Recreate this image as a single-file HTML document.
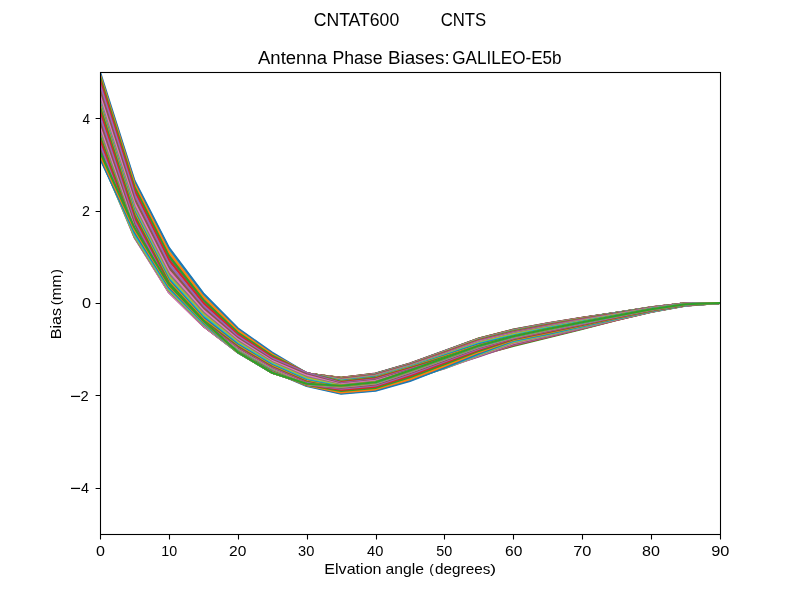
<!DOCTYPE html>
<html><head><meta charset="utf-8"><title>plot</title><style>html,body{margin:0;padding:0;background:#fff;overflow:hidden}svg{display:block;will-change:transform}text{font-family:"Liberation Sans",sans-serif;fill:#000}</style></head><body>
<svg width="800" height="600" viewBox="0 0 800 600">
<rect width="800" height="600" fill="#fff"/>
<defs><clipPath id="c"><rect x="100" y="72" width="620" height="462"/></clipPath></defs>
<g clip-path="url(#c)" fill="none" stroke-width="2.083" stroke-linejoin="round" stroke-linecap="square">
<polyline points="100.00,152.76 134.44,228.84 168.89,284.96 203.33,320.79 237.78,352.05 272.22,372.76 306.67,383.68 341.11,385.74 375.56,382.19 410.00,370.51 444.44,358.07 478.89,345.63 513.33,336.15 547.78,328.96 582.22,322.22 616.67,315.66 651.11,309.17 685.56,304.19 720.00,303.00" stroke="#1f77b4"/>
<polyline points="100.00,149.27 134.44,226.45 168.89,283.46 203.33,320.02 237.78,351.85 272.22,372.75 306.67,382.98 341.11,385.24 375.56,381.65 410.00,369.96 444.44,357.52 478.89,345.07 513.33,335.64 547.78,328.52 582.22,321.87 616.67,315.43 651.11,309.03 685.56,304.12 720.00,303.00" stroke="#ff7f0e"/>
<polyline points="100.00,145.99 134.44,224.43 168.89,282.18 203.33,319.25 237.78,351.62 272.22,372.73 306.67,382.29 341.11,384.75 375.56,381.11 410.00,369.42 444.44,356.97 478.89,344.50 513.33,335.13 547.78,328.08 582.22,321.53 616.67,315.20 651.11,308.89 685.56,304.04 720.00,303.00" stroke="#2ca02c"/>
<polyline points="100.00,143.70 134.44,223.36 168.89,281.31 203.33,318.50 237.78,351.36 272.22,372.70 306.67,381.59 341.11,384.25 375.56,380.58 410.00,368.87 444.44,356.42 478.89,343.94 513.33,334.62 547.78,327.64 582.22,321.18 616.67,314.97 651.11,308.74 685.56,303.97 720.00,303.00" stroke="#d62728"/>
<polyline points="100.00,142.83 134.44,223.15 168.89,280.74 203.33,317.75 237.78,351.07 272.22,372.66 306.67,380.90 341.11,383.75 375.56,380.04 410.00,368.32 444.44,355.88 478.89,343.37 513.33,334.11 547.78,327.20 582.22,320.83 616.67,314.73 651.11,308.60 685.56,303.89 720.00,303.00" stroke="#9467bd"/>
<polyline points="100.00,143.11 134.44,223.23 168.89,280.28 203.33,317.01 237.78,350.75 272.22,372.60 306.67,380.20 341.11,383.25 375.56,379.50 410.00,367.78 444.44,355.33 478.89,342.80 513.33,333.60 547.78,326.76 582.22,320.49 616.67,314.50 651.11,308.46 685.56,303.82 720.00,303.00" stroke="#8c564b"/>
<polyline points="100.00,143.10 134.44,223.05 168.89,279.72 203.33,316.28 237.78,350.41 272.22,372.52 306.67,379.51 341.11,382.75 375.56,378.96 410.00,367.23 444.44,354.78 478.89,342.24 513.33,333.09 547.78,326.32 582.22,320.14 616.67,314.27 651.11,308.31 685.56,303.74 720.00,303.00" stroke="#e377c2"/>
<polyline points="100.00,141.77 134.44,222.19 168.89,278.89 203.33,315.55 237.78,350.05 272.22,372.42 306.67,378.75 341.11,382.25 375.56,378.43 410.00,366.69 444.44,354.23 478.89,341.67 513.33,332.58 547.78,325.88 582.22,319.79 616.67,314.04 651.11,308.17 685.56,303.67 720.00,303.00" stroke="#7f7f7f"/>
<polyline points="100.00,138.82 134.44,220.47 168.89,277.74 203.33,314.83 237.78,349.67 272.22,372.31 306.67,377.99 341.11,381.75 375.56,377.89 410.00,366.14 444.44,353.68 478.89,341.11 513.33,332.06 547.78,325.44 582.22,319.45 616.67,313.81 651.11,308.03 685.56,303.59 720.00,303.00" stroke="#bcbd22"/>
<polyline points="100.00,134.54 134.44,218.06 168.89,276.31 203.33,314.11 237.78,349.26 272.22,372.17 306.67,377.23 341.11,381.18 375.56,377.28 410.00,365.77 444.44,353.31 478.89,340.72 513.33,331.71 547.78,325.14 582.22,319.21 616.67,313.65 651.11,307.93 685.56,303.54 720.00,303.00" stroke="#17becf"/>
<polyline points="100.00,129.77 134.44,215.39 168.89,274.78 203.33,313.40 237.78,348.83 272.22,372.01 306.67,376.47 341.11,380.61 375.56,376.66 410.00,365.39 444.44,352.93 478.89,340.33 513.33,331.36 547.78,324.84 582.22,318.97 616.67,313.49 651.11,307.83 685.56,303.49 720.00,303.00" stroke="#1f77b4"/>
<polyline points="100.00,125.53 134.44,213.00 168.89,273.37 203.33,312.69 237.78,348.38 272.22,371.83 306.67,375.71 341.11,380.04 375.56,376.05 410.00,365.02 444.44,352.55 478.89,339.94 513.33,331.01 547.78,324.54 582.22,318.73 616.67,313.34 651.11,307.73 685.56,303.44 720.00,303.00" stroke="#ff7f0e"/>
<polyline points="100.00,122.63 134.44,211.32 168.89,272.24 203.33,311.99 237.78,347.92 272.22,371.63 306.67,374.95 341.11,379.46 375.56,375.44 410.00,364.64 444.44,352.18 478.89,339.55 513.33,330.66 547.78,324.23 582.22,318.50 616.67,313.18 651.11,307.64 685.56,303.39 720.00,303.00" stroke="#2ca02c"/>
<polyline points="100.00,121.40 134.44,210.51 168.89,271.45 203.33,311.29 237.78,347.43 272.22,371.40 306.67,374.73 341.11,378.89 375.56,374.82 410.00,364.27 444.44,351.80 478.89,339.17 513.33,330.31 547.78,323.93 582.22,318.26 616.67,313.02 651.11,307.54 685.56,303.33 720.00,303.00" stroke="#d62728"/>
<polyline points="100.00,121.51 134.44,210.40 168.89,270.95 203.33,310.59 237.78,346.92 272.22,371.14 306.67,374.51 341.11,378.32 375.56,374.21 410.00,363.90 444.44,351.42 478.89,338.78 513.33,329.96 547.78,323.63 582.22,318.02 616.67,312.86 651.11,307.44 685.56,303.28 720.00,303.00" stroke="#9467bd"/>
<polyline points="100.00,122.14 134.44,210.57 168.89,270.55 203.33,309.90 237.78,346.40 272.22,370.85 306.67,374.30 341.11,377.75 375.56,373.59 410.00,363.52 444.44,351.05 478.89,338.39 513.33,329.61 547.78,323.33 582.22,317.78 616.67,312.70 651.11,307.34 685.56,303.23 720.00,303.00" stroke="#8c564b"/>
<polyline points="100.00,122.27 134.44,210.48 168.89,270.05 203.33,309.21 237.78,345.86 272.22,370.54 306.67,374.08 341.11,377.80 375.56,373.65 410.00,363.57 444.44,351.11 478.89,338.45 513.33,329.67 547.78,323.38 582.22,317.82 616.67,312.73 651.11,307.36 685.56,303.24 720.00,303.00" stroke="#e377c2"/>
<polyline points="100.00,121.07 134.44,209.69 168.89,269.29 203.33,308.53 237.78,345.30 272.22,370.20 306.67,373.86 341.11,377.85 375.56,373.70 410.00,363.63 444.44,351.16 478.89,338.51 513.33,329.73 547.78,323.43 582.22,317.86 616.67,312.76 651.11,307.38 685.56,303.25 720.00,303.00" stroke="#7f7f7f"/>
<polyline points="100.00,118.23 134.44,208.05 168.89,268.18 203.33,307.85 237.78,344.73 272.22,369.83 306.67,373.64 341.11,377.90 375.56,373.75 410.00,363.68 444.44,351.22 478.89,338.58 513.33,329.79 547.78,323.48 582.22,317.91 616.67,312.78 651.11,307.39 685.56,303.26 720.00,303.00" stroke="#bcbd22"/>
<polyline points="100.00,114.07 134.44,205.71 168.89,266.81 203.33,307.17 237.78,344.13 272.22,369.43 306.67,373.62 341.11,377.94 375.56,373.80 410.00,363.73 444.44,351.28 478.89,338.64 513.33,329.85 547.78,323.53 582.22,317.95 616.67,312.81 651.11,307.41 685.56,303.27 720.00,303.00" stroke="#17becf"/>
<polyline points="100.00,109.40 134.44,203.11 168.89,265.33 203.33,306.49 237.78,343.53 272.22,369.00 306.67,373.60 341.11,377.99 375.56,373.85 410.00,363.78 444.44,351.34 478.89,338.70 513.33,329.91 547.78,323.59 582.22,317.99 616.67,312.84 651.11,307.43 685.56,303.27 720.00,303.00" stroke="#1f77b4"/>
<polyline points="100.00,105.25 134.44,200.78 168.89,263.96 203.33,305.82 237.78,342.90 272.22,368.53 306.67,373.58 341.11,378.04 375.56,373.90 410.00,363.84 444.44,351.39 478.89,338.77 513.33,329.97 547.78,323.64 582.22,318.03 616.67,312.86 651.11,307.44 685.56,303.28 720.00,303.00" stroke="#ff7f0e"/>
<polyline points="100.00,102.45 134.44,199.16 168.89,262.87 203.33,305.14 237.78,342.26 272.22,368.04 306.67,373.56 341.11,378.09 375.56,373.95 410.00,363.89 444.44,351.45 478.89,338.83 513.33,330.03 547.78,323.69 582.22,318.07 616.67,312.89 651.11,307.46 685.56,303.29 720.00,303.00" stroke="#2ca02c"/>
<polyline points="100.00,101.30 134.44,198.40 168.89,262.12 203.33,304.47 237.78,341.61 272.22,367.51 306.67,373.54 341.11,378.14 375.56,374.01 410.00,363.94 444.44,351.51 478.89,338.89 513.33,330.09 547.78,323.74 582.22,318.11 616.67,312.92 651.11,307.48 685.56,303.30 720.00,303.00" stroke="#d62728"/>
<polyline points="100.00,101.49 134.44,198.35 168.89,261.66 203.33,303.81 237.78,340.93 272.22,366.94 306.67,373.51 341.11,378.18 375.56,374.06 410.00,363.99 444.44,351.57 478.89,338.98 513.33,330.21 547.78,323.84 582.22,318.19 616.67,312.97 651.11,307.51 685.56,303.32 720.00,303.00" stroke="#9467bd"/>
<polyline points="100.00,102.19 134.44,198.57 168.89,261.30 203.33,303.14 237.78,340.25 272.22,366.34 306.67,373.49 341.11,378.23 375.56,374.11 410.00,364.05 444.44,351.69 478.89,339.13 513.33,330.35 547.78,323.96 582.22,318.28 616.67,313.04 651.11,307.55 685.56,303.34 720.00,303.00" stroke="#8c564b"/>
<polyline points="100.00,102.39 134.44,198.52 168.89,260.84 203.33,302.48 237.78,339.55 272.22,365.71 306.67,373.47 341.11,378.34 375.56,374.23 410.00,364.17 444.44,351.83 478.89,339.27 513.33,330.49 547.78,324.08 582.22,318.38 616.67,313.10 651.11,307.59 685.56,303.36 720.00,303.00" stroke="#e377c2"/>
<polyline points="100.00,101.27 134.44,197.78 168.89,260.10 203.33,301.82 237.78,338.83 272.22,365.03 306.67,373.45 341.11,378.45 375.56,374.35 410.00,364.29 444.44,351.96 478.89,339.42 513.33,330.63 547.78,324.20 582.22,318.47 616.67,313.16 651.11,307.63 685.56,303.38 720.00,303.00" stroke="#7f7f7f"/>
<polyline points="100.00,98.50 134.44,196.18 168.89,259.03 203.33,301.16 237.78,338.10 272.22,364.33 306.67,373.43 341.11,378.57 375.56,374.47 410.00,364.41 444.44,352.10 478.89,339.57 513.33,330.77 547.78,324.32 582.22,318.57 616.67,313.22 651.11,307.67 685.56,303.40 720.00,303.00" stroke="#bcbd22"/>
<polyline points="100.00,94.39 134.44,193.88 168.89,257.69 203.33,300.50 237.78,337.36 272.22,363.58 306.67,373.41 341.11,378.68 375.56,374.59 410.00,364.53 444.44,352.23 478.89,339.71 513.33,330.91 547.78,324.44 582.22,318.66 616.67,313.29 651.11,307.70 685.56,303.42 720.00,303.00" stroke="#17becf"/>
<polyline points="100.00,89.79 134.44,191.32 168.89,256.24 203.33,299.85 237.78,336.60 272.22,362.79 306.67,373.38 341.11,378.79 375.56,374.71 410.00,364.66 444.44,352.37 478.89,339.86 513.33,331.05 547.78,324.56 582.22,318.76 616.67,313.35 651.11,307.74 685.56,303.44 720.00,303.00" stroke="#1f77b4"/>
<polyline points="100.00,85.70 134.44,189.03 168.89,254.90 203.33,299.19 237.78,335.83 272.22,361.97 306.67,373.37 341.11,378.90 375.56,374.83 410.00,364.78 444.44,352.50 478.89,340.01 513.33,331.18 547.78,324.68 582.22,318.85 616.67,313.41 651.11,307.78 685.56,303.46 720.00,303.00" stroke="#ff7f0e"/>
<polyline points="100.00,82.94 134.44,187.44 168.89,253.84 203.33,298.54 237.78,335.04 272.22,361.11 306.67,373.36 341.11,379.01 375.56,374.95 410.00,364.90 444.44,352.64 478.89,340.15 513.33,331.48 547.78,324.94 582.22,319.05 616.67,313.55 651.11,307.87 685.56,303.51 720.00,303.00" stroke="#2ca02c"/>
<polyline points="100.00,81.85 134.44,186.85 168.89,253.18 203.33,297.89 237.78,334.24 272.22,360.21 306.67,373.34 341.11,379.13 375.56,375.07 410.00,365.02 444.44,352.77 478.89,340.50 513.33,331.91 547.78,325.31 582.22,319.34 616.67,313.74 651.11,307.99 685.56,303.57 720.00,303.00" stroke="#d62728"/>
<polyline points="100.00,82.28 134.44,186.85 168.89,252.74 203.33,297.25 237.78,333.43 272.22,359.26 306.67,373.33 341.11,379.24 375.56,375.19 410.00,365.15 444.44,353.12 478.89,340.95 513.33,332.34 547.78,325.68 582.22,319.63 616.67,313.93 651.11,308.10 685.56,303.63 720.00,303.00" stroke="#9467bd"/>
<polyline points="100.00,82.46 134.44,186.73 168.89,252.25 203.33,296.60 237.78,332.60 272.22,358.28 306.67,373.32 341.11,379.35 375.56,375.31 410.00,365.27 444.44,353.54 478.89,341.39 513.33,332.76 547.78,326.04 582.22,319.92 616.67,314.13 651.11,308.22 685.56,303.69 720.00,303.00" stroke="#8c564b"/>
<polyline points="100.00,81.60 134.44,186.09 168.89,251.56 203.33,295.95 237.78,331.76 272.22,357.25 306.67,373.31 341.11,379.69 375.56,375.68 410.00,365.64 444.44,353.95 478.89,341.84 513.33,333.19 547.78,326.41 582.22,320.21 616.67,314.32 651.11,308.34 685.56,303.76 720.00,303.00" stroke="#e377c2"/>
<polyline points="100.00,79.55 134.44,184.88 168.89,250.65 203.33,295.31 237.78,330.91 272.22,356.18 306.67,373.29 341.11,380.04 375.56,376.05 410.00,366.02 444.44,354.36 478.89,342.29 513.33,333.61 547.78,326.78 582.22,320.50 616.67,314.51 651.11,308.46 685.56,303.82 720.00,303.00" stroke="#7f7f7f"/>
<polyline points="100.00,76.79 134.44,183.33 168.89,249.61 203.33,294.67 237.78,330.04 272.22,355.07 306.67,373.28 341.11,380.38 375.56,376.42 410.00,366.39 444.44,354.78 478.89,342.74 513.33,334.36 547.78,327.42 582.22,321.01 616.67,314.85 651.11,308.67 685.56,303.93 720.00,303.00" stroke="#bcbd22"/>
<polyline points="100.00,74.08 134.44,181.80 168.89,248.59 203.33,294.03 237.78,329.16 272.22,353.91 306.67,373.27 341.11,380.72 375.56,376.79 410.00,366.77 444.44,355.19 478.89,343.44 513.33,335.19 547.78,328.14 582.22,321.57 616.67,315.22 651.11,308.90 685.56,304.05 720.00,303.00" stroke="#17becf"/>
<polyline points="100.00,72.00 134.44,180.57 168.89,247.68 203.33,293.39 237.78,328.27 272.22,352.71 306.67,373.25 341.11,381.06 375.56,377.15 410.00,367.14 444.44,355.76 478.89,344.31 513.33,336.02 547.78,328.85 582.22,322.13 616.67,315.60 651.11,309.14 685.56,304.17 720.00,303.00" stroke="#1f77b4"/>
<polyline points="100.00,74.75 134.44,183.88 168.89,251.99 203.33,296.78 237.78,330.45 272.22,354.29 306.67,373.19 341.11,381.41 375.56,377.52 410.00,367.51 444.44,356.56 478.89,345.18 513.33,336.85 547.78,329.56 582.22,322.69 616.67,315.97 651.11,309.37 685.56,304.29 720.00,303.00" stroke="#ff7f0e"/>
<polyline points="100.00,77.14 134.44,186.88 168.89,255.94 203.33,299.94 237.78,332.50 272.22,355.79 306.67,373.12 341.11,381.75 375.56,377.89 410.00,367.89 444.44,357.36 478.89,346.05 513.33,337.68 547.78,330.28 582.22,323.25 616.67,316.35 651.11,309.60 685.56,304.42 720.00,303.00" stroke="#2ca02c"/>
<polyline points="100.00,80.16 134.44,190.16 168.89,259.76 203.33,302.87 237.78,334.43 272.22,357.22 306.67,373.06 341.11,382.41 375.56,378.61 410.00,368.62 444.44,358.17 478.89,346.92 513.33,338.51 547.78,330.99 582.22,323.81 616.67,316.72 651.11,309.83 685.56,304.54 720.00,303.00" stroke="#d62728"/>
<polyline points="100.00,84.56 134.44,194.13 168.89,263.63 203.33,305.58 237.78,336.23 272.22,358.57 306.67,372.99 341.11,383.08 375.56,379.32 410.00,369.34 444.44,358.97 478.89,347.79 513.33,339.34 547.78,331.71 582.22,324.38 616.67,317.10 651.11,310.06 685.56,304.66 720.00,303.00" stroke="#9467bd"/>
<polyline points="100.00,90.31 134.44,198.71 168.89,267.51 203.33,308.07 237.78,337.92 272.22,359.85 306.67,374.30 341.11,383.75 375.56,380.04 410.00,370.07 444.44,359.77 478.89,348.66 513.33,340.16 547.78,332.42 582.22,324.94 616.67,317.47 651.11,310.29 685.56,304.78 720.00,303.00" stroke="#8c564b"/>
<polyline points="100.00,95.79 134.44,202.98 168.89,271.06 203.33,310.36 237.78,339.49 272.22,361.05 306.67,375.60 341.11,384.41 375.56,380.75 410.00,370.80 444.44,360.58 478.89,349.53 513.33,340.99 547.78,333.13 582.22,325.50 616.67,317.85 651.11,310.53 685.56,304.90 720.00,303.00" stroke="#e377c2"/>
<polyline points="100.00,99.91 134.44,206.44 168.89,274.07 203.33,312.45 237.78,340.95 272.22,362.19 306.67,376.90 341.11,385.08 375.56,381.47 410.00,371.53 444.44,361.38 478.89,350.40 513.33,341.82 547.78,333.85 582.22,326.06 616.67,318.22 651.11,310.76 685.56,305.02 720.00,303.00" stroke="#7f7f7f"/>
<polyline points="100.00,102.34 134.44,208.92 168.89,276.50 203.33,314.36 237.78,342.30 272.22,363.25 306.67,378.20 341.11,385.74 375.56,382.19 410.00,372.25 444.44,362.18 478.89,351.28 513.33,342.71 547.78,334.62 582.22,326.67 616.67,318.62 651.11,311.01 685.56,305.16 720.00,303.00" stroke="#bcbd22"/>
<polyline points="100.00,103.42 134.44,210.57 168.89,278.42 203.33,316.08 237.78,343.54 272.22,364.25 306.67,379.51 341.11,386.41 375.56,382.90 410.00,372.98 444.44,362.98 478.89,352.16 513.33,343.61 547.78,335.39 582.22,327.27 616.67,319.03 651.11,311.26 685.56,305.29 720.00,303.00" stroke="#17becf"/>
<polyline points="100.00,103.95 134.44,211.84 168.89,280.01 203.33,317.63 237.78,344.69 272.22,365.19 306.67,380.55 341.11,387.08 375.56,383.62 410.00,373.71 444.44,363.79 478.89,353.10 513.33,344.50 547.78,336.16 582.22,327.88 616.67,319.43 651.11,311.51 685.56,305.42 720.00,303.00" stroke="#1f77b4"/>
<polyline points="100.00,104.96 134.44,213.25 168.89,281.48 203.33,319.02 237.78,345.73 272.22,366.06 306.67,381.14 341.11,387.74 375.56,384.34 410.00,374.44 444.44,364.62 478.89,354.04 513.33,345.27 547.78,336.82 582.22,328.40 616.67,319.78 651.11,311.72 685.56,305.53 720.00,303.00" stroke="#ff7f0e"/>
<polyline points="100.00,107.27 134.44,215.24 168.89,283.03 203.33,320.24 237.78,346.69 272.22,366.87 306.67,381.72 341.11,388.41 375.56,385.05 410.00,375.16 444.44,365.49 478.89,354.98 513.33,345.97 547.78,337.42 582.22,328.87 616.67,320.09 651.11,311.92 685.56,305.63 720.00,303.00" stroke="#2ca02c"/>
<polyline points="100.00,111.20 134.44,217.96 168.89,284.72 203.33,321.32 237.78,347.55 272.22,367.61 306.67,382.29 341.11,389.07 375.56,385.77 410.00,375.89 444.44,366.35 478.89,355.77 513.33,345.29 547.78,336.96 582.22,328.53 616.67,319.89 651.11,311.80 685.56,305.57 720.00,303.00" stroke="#d62728"/>
<polyline points="100.00,116.43 134.44,221.26 168.89,286.51 203.33,322.26 237.78,348.32 272.22,368.30 306.67,382.85 341.11,389.74 375.56,386.48 410.00,376.62 444.44,367.22 478.89,356.50 513.33,344.62 547.78,336.50 582.22,328.18 616.67,319.69 651.11,311.69 685.56,305.51 720.00,303.00" stroke="#9467bd"/>
<polyline points="100.00,122.12 134.44,224.70 168.89,288.22 203.33,323.07 237.78,349.01 272.22,368.92 306.67,383.42 341.11,390.46 375.56,387.26 410.00,377.41 444.44,367.93 478.89,355.99 513.33,343.94 547.78,336.05 582.22,327.83 616.67,319.48 651.11,311.57 685.56,305.45 720.00,303.00" stroke="#8c564b"/>
<polyline points="100.00,127.27 134.44,227.73 168.89,289.66 203.33,323.76 237.78,349.62 272.22,369.50 306.67,383.94 341.11,391.18 375.56,388.03 410.00,378.19 444.44,368.60 478.89,355.47 513.33,343.27 547.78,335.59 582.22,327.49 616.67,319.28 651.11,311.46 685.56,305.39 720.00,303.00" stroke="#e377c2"/>
<polyline points="100.00,131.04 134.44,229.94 168.89,290.66 203.33,324.33 237.78,350.16 272.22,370.01 306.67,384.46 341.11,391.90 375.56,388.80 410.00,378.98 444.44,368.34 478.89,354.96 513.33,342.59 547.78,335.13 582.22,327.14 616.67,319.08 651.11,311.34 685.56,305.33 720.00,303.00" stroke="#7f7f7f"/>
<polyline points="100.00,133.12 134.44,231.14 168.89,291.19 203.33,324.80 237.78,350.63 272.22,370.48 306.67,384.98 341.11,392.62 375.56,389.58 410.00,379.76 444.44,368.08 478.89,354.45 513.33,341.92 547.78,334.67 582.22,326.79 616.67,318.87 651.11,311.23 685.56,305.27 720.00,303.00" stroke="#bcbd22"/>
<polyline points="100.00,133.81 134.44,231.50 168.89,291.30 203.33,325.18 237.78,351.03 272.22,370.89 306.67,385.50 341.11,393.18 375.56,390.18 410.00,380.37 444.44,367.81 478.89,353.93 513.33,341.24 547.78,334.21 582.22,326.45 616.67,318.67 651.11,311.12 685.56,305.21 720.00,303.00" stroke="#17becf"/>
<polyline points="100.00,133.94 134.44,231.46 168.89,291.19 203.33,325.47 237.78,351.36 272.22,371.26 306.67,386.02 341.11,393.74 375.56,390.78 410.00,380.99 444.44,367.55 478.89,353.42 513.33,340.57 547.78,333.76 582.22,326.10 616.67,318.47 651.11,311.00 685.56,305.15 720.00,303.00" stroke="#1f77b4"/>
<polyline points="100.00,134.53 134.44,231.53 168.89,291.07 203.33,325.69 237.78,351.64 272.22,371.58 306.67,385.24 341.11,392.39 375.56,389.34 410.00,379.17 444.44,365.94 478.89,352.15 513.33,339.95 547.78,333.02 582.22,325.50 616.67,318.02 651.11,310.71 685.56,305.00 720.00,303.00" stroke="#ff7f0e"/>
<polyline points="100.00,136.39 134.44,232.16 168.89,291.21 203.33,325.83 237.78,351.87 272.22,371.85 306.67,384.72 341.11,391.05 375.56,387.89 410.00,377.35 444.44,364.32 478.89,350.89 513.33,339.33 547.78,332.29 582.22,324.90 616.67,317.58 651.11,310.42 685.56,304.85 720.00,303.00" stroke="#2ca02c"/>
<polyline points="100.00,139.83 134.44,233.69 168.89,291.69 203.33,325.93 237.78,352.05 272.22,372.08 306.67,384.52 341.11,389.84 375.56,386.59 410.00,375.72 444.44,362.87 478.89,349.74 513.33,338.77 547.78,331.63 582.22,324.36 616.67,317.18 651.11,310.15 685.56,304.71 720.00,303.00" stroke="#d62728"/>
<polyline points="100.00,144.54 134.44,235.59 168.89,292.15 203.33,325.98 237.78,352.18 272.22,372.28 306.67,384.33 341.11,388.77 375.56,385.44 410.00,374.27 444.44,361.57 478.89,348.73 513.33,338.27 547.78,331.04 582.22,323.88 616.67,316.83 651.11,309.92 685.56,304.58 720.00,303.00" stroke="#9467bd"/>
<polyline points="100.00,149.67 134.44,236.93 168.89,292.37 203.33,326.00 237.78,352.27 272.22,372.43 306.67,384.23 341.11,387.83 375.56,384.43 410.00,372.99 444.44,360.44 478.89,347.84 513.33,337.83 547.78,330.53 582.22,323.47 616.67,316.52 651.11,309.71 685.56,304.48 720.00,303.00" stroke="#8c564b"/>
<polyline points="100.00,153.49 134.44,237.40 168.89,292.32 203.33,326.01 237.78,352.34 272.22,372.55 306.67,384.13 341.11,387.02 375.56,383.56 410.00,371.90 444.44,359.47 478.89,347.08 513.33,337.46 547.78,330.09 582.22,323.11 616.67,316.25 651.11,309.54 685.56,304.38 720.00,303.00" stroke="#e377c2"/>
<polyline points="100.00,155.53 134.44,237.14 168.89,291.01 203.33,324.97 237.78,352.37 272.22,372.64 306.67,384.03 341.11,386.78 375.56,383.30 410.00,371.64 444.44,359.21 478.89,346.81 513.33,337.22 547.78,329.88 582.22,322.94 616.67,316.14 651.11,309.47 685.56,304.35 720.00,303.00" stroke="#7f7f7f"/>
<polyline points="100.00,156.44 134.44,235.54 168.89,289.85 203.33,324.07 237.78,352.39 272.22,372.70 306.67,383.94 341.11,386.54 375.56,383.05 410.00,371.38 444.44,358.95 478.89,346.54 513.33,336.97 547.78,329.67 582.22,322.77 616.67,316.03 651.11,309.40 685.56,304.31 720.00,303.00" stroke="#bcbd22"/>
<polyline points="100.00,157.20 134.44,233.89 168.89,288.60 203.33,323.21 237.78,352.39 272.22,372.74 306.67,383.87 341.11,386.30 375.56,382.79 410.00,371.12 444.44,358.68 478.89,346.27 513.33,336.73 547.78,329.46 582.22,322.61 616.67,315.92 651.11,309.33 685.56,304.28 720.00,303.00" stroke="#17becf"/>
<polyline points="100.00,158.39 134.44,231.92 168.89,287.22 203.33,322.39 237.78,352.33 272.22,372.76 306.67,383.81 341.11,386.06 375.56,382.53 410.00,370.86 444.44,358.42 478.89,346.00 513.33,336.48 547.78,329.25 582.22,322.44 616.67,315.81 651.11,309.26 685.56,304.24 720.00,303.00" stroke="#1f77b4"/>
<polyline points="100.00,155.12 134.44,229.76 168.89,285.79 203.33,321.58 237.78,352.21 272.22,372.76 306.67,383.74 341.11,385.90 375.56,382.36 410.00,370.68 444.44,358.25 478.89,345.81 513.33,336.32 547.78,329.11 582.22,322.33 616.67,315.73 651.11,309.22 685.56,304.22 720.00,303.00" stroke="#ff7f0e"/>
<polyline points="100.00,151.91 134.44,227.80 168.89,284.48 203.33,320.79 237.78,352.05 272.22,372.76 306.67,383.68 341.11,385.74 375.56,382.19 410.00,370.51 444.44,358.07 478.89,345.63 513.33,336.15 547.78,328.96 582.22,322.22 616.67,315.66 651.11,309.17 685.56,304.19 720.00,303.00" stroke="#2ca02c"/>
</g>
<rect x="100.5" y="72.5" width="620" height="462" fill="none" stroke="#000" stroke-width="1.1"/>
<path d="M100.5 534.5v4.9M169.5 534.5v4.9M238.5 534.5v4.9M307.5 534.5v4.9M376.5 534.5v4.9M444.5 534.5v4.9M513.5 534.5v4.9M582.5 534.5v4.9M651.5 534.5v4.9M720.5 534.5v4.9M100.5 488.5h-4.9M100.5 395.5h-4.9M100.5 303.5h-4.9M100.5 211.5h-4.9M100.5 118.5h-4.9" stroke="#000" stroke-width="1.1" fill="none"/>
<rect x="71.0" y="395.78" width="9.1" height="1.25" fill="#000"/>
<rect x="71.0" y="487.78" width="9.1" height="1.25" fill="#000"/>
<text x="258.00" y="63.50" font-size="17.60" text-anchor="start" textLength="69.00" lengthAdjust="spacingAndGlyphs">Antenna</text>
<text x="332.40" y="63.50" font-size="17.60" text-anchor="start" textLength="50.09" lengthAdjust="spacingAndGlyphs">Phase</text>
<text x="387.90" y="63.50" font-size="17.60" text-anchor="start" textLength="61.80" lengthAdjust="spacingAndGlyphs">Biases:</text>
<text x="452.32" y="63.50" font-size="17.60" text-anchor="start" textLength="109.23" lengthAdjust="spacingAndGlyphs">GALILEO-E5b</text>
<text x="313.70" y="26.00" font-size="17.60" text-anchor="start" textLength="85.54" lengthAdjust="spacingAndGlyphs">CNTAT600</text>
<text x="440.70" y="26.00" font-size="17.60" text-anchor="start" textLength="45.58" lengthAdjust="spacingAndGlyphs">CNTS</text>
<text x="324.32" y="573.80" font-size="14.10" text-anchor="start" textLength="57.23" lengthAdjust="spacingAndGlyphs">Elvation</text>
<text x="385.58" y="573.80" font-size="14.10" text-anchor="start" textLength="38.39" lengthAdjust="spacingAndGlyphs">angle</text>
<text x="429.16" y="572.80" font-size="13.20" text-anchor="start" textLength="4.57" lengthAdjust="spacingAndGlyphs">(</text>
<text x="435.08" y="573.80" font-size="14.10" text-anchor="start" textLength="55.25" lengthAdjust="spacingAndGlyphs">degrees</text>
<text x="490.12" y="572.80" font-size="13.20" text-anchor="start" textLength="6.10" lengthAdjust="spacingAndGlyphs">)</text>
<text x="96.08" y="555.60" font-size="14.10" text-anchor="start" textLength="8.96" lengthAdjust="spacingAndGlyphs">0</text>
<text x="161.28" y="555.60" font-size="14.10" text-anchor="start" textLength="15.88" lengthAdjust="spacingAndGlyphs">10</text>
<text x="229.12" y="555.60" font-size="14.10" text-anchor="start" textLength="17.30" lengthAdjust="spacingAndGlyphs">20</text>
<text x="298.12" y="555.60" font-size="14.10" text-anchor="start" textLength="16.30" lengthAdjust="spacingAndGlyphs">30</text>
<text x="367.12" y="555.60" font-size="14.10" text-anchor="start" textLength="16.30" lengthAdjust="spacingAndGlyphs">40</text>
<text x="436.20" y="555.60" font-size="14.10" text-anchor="start" textLength="15.96" lengthAdjust="spacingAndGlyphs">50</text>
<text x="505.12" y="555.60" font-size="14.10" text-anchor="start" textLength="17.30" lengthAdjust="spacingAndGlyphs">60</text>
<text x="573.28" y="555.60" font-size="14.10" text-anchor="start" textLength="18.20" lengthAdjust="spacingAndGlyphs">70</text>
<text x="642.08" y="555.60" font-size="14.10" text-anchor="start" textLength="17.94" lengthAdjust="spacingAndGlyphs">80</text>
<text x="711.28" y="555.60" font-size="14.10" text-anchor="start" textLength="18.20" lengthAdjust="spacingAndGlyphs">90</text>
<text x="82.50" y="123.90" font-size="14.10" text-anchor="start" textLength="7.53" lengthAdjust="spacingAndGlyphs">4</text>
<text x="81.95" y="216.00" font-size="14.10" text-anchor="start" textLength="7.94" lengthAdjust="spacingAndGlyphs">2</text>
<text x="81.95" y="307.90" font-size="14.10" text-anchor="start" textLength="9.07" lengthAdjust="spacingAndGlyphs">0</text>
<text x="80.45" y="400.90" font-size="14.10" text-anchor="start" textLength="8.17" lengthAdjust="spacingAndGlyphs">2</text>
<text x="81.00" y="492.90" font-size="14.10" text-anchor="start" textLength="8.00" lengthAdjust="spacingAndGlyphs">4</text>
<g transform="translate(61.30,339.26) rotate(-90)"><text x="0.00" y="0.00" font-size="14.10" text-anchor="start" textLength="31.37" lengthAdjust="spacingAndGlyphs">Bias</text></g>
<g transform="translate(60.30,305.34) rotate(-90)"><text x="0.00" y="0.00" font-size="13.20" text-anchor="start" textLength="4.76" lengthAdjust="spacingAndGlyphs">(</text></g>
<g transform="translate(61.30,300.22) rotate(-90)"><text x="0.00" y="0.00" font-size="14.10" text-anchor="start" textLength="25.53" lengthAdjust="spacingAndGlyphs">mm</text></g>
<g transform="translate(60.30,273.84) rotate(-90)"><text x="0.00" y="0.00" font-size="13.20" text-anchor="start" textLength="4.76" lengthAdjust="spacingAndGlyphs">)</text></g>
</svg></body></html>
